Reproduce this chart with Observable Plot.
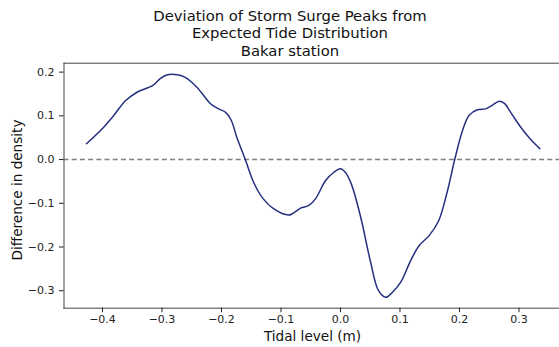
<!DOCTYPE html>
<html>
<head>
<meta charset="utf-8">
<script src="https://cdn.jsdelivr.net/npm/d3@7"></script>
<script src="https://cdn.jsdelivr.net/npm/@observablehq/plot@0.6"></script>
<style>
  html, body { margin: 0; padding: 0; background: #fff; }
  #wrap { position: relative; width: 559px; height: 347px; overflow: hidden; font-family: "DejaVu Sans", sans-serif; color: #111; }
  #title { position: absolute; left: 0; width: 580px; top: 7px; text-align: center; font-size: 14.8px; line-height: 17.3px; }
  #chart { position: absolute; left: 0; top: 0; }
  .axis-label { position: absolute; font-size: 13.6px; line-height: 16px; white-space: nowrap; }
  #xlabel { left: 312.5px; top: 328px; transform: translateX(-50%); }
  #ylabel { left: 17px; top: 190px; transform: translate(-50%, -50%) rotate(-90deg); }
</style>
</head>
<body>
<div id="wrap">
  <div id="chart"></div>
  <div id="title">Deviation of Storm Surge Peaks from<br>Expected Tide Distribution<br>Bakar station</div>
  <div id="xlabel" class="axis-label">Tidal level (m)</div>
  <div id="ylabel" class="axis-label">Difference in density</div>
</div>
<script>
// Tidal level (m) and difference in density (surge peaks minus expected tide)
const tidalLevel = [
  -0.427, -0.398, -0.381, -0.361, -0.342, -0.316, -0.303, -0.291, -0.274, -0.261,
  -0.241, -0.218, -0.205, -0.193, -0.184, -0.174, -0.160, -0.146, -0.132, -0.112,
  -0.087, -0.081, -0.067, -0.053, -0.042, -0.025, -0.011, 0.000, 0.008, 0.018,
  0.034, 0.050, 0.064, 0.076, 0.087, 0.101, 0.118, 0.132, 0.149, 0.165,
  0.179, 0.192, 0.205, 0.216, 0.230, 0.244, 0.255, 0.266, 0.275, 0.286,
  0.303, 0.319, 0.335
];
const densityDiff = [
  0.036, 0.074, 0.101, 0.135, 0.154, 0.169, 0.185, 0.194, 0.194, 0.188,
  0.165, 0.127, 0.116, 0.108, 0.091, 0.050, 0.000, -0.052, -0.086, -0.113,
  -0.127, -0.124, -0.111, -0.105, -0.090, -0.048, -0.029, -0.021, -0.029, -0.055,
  -0.132, -0.231, -0.300, -0.315, -0.304, -0.281, -0.231, -0.197, -0.174, -0.140,
  -0.076, 0.000, 0.066, 0.101, 0.114, 0.116, 0.124, 0.133, 0.129, 0.108,
  0.074, 0.047, 0.025
];
const xTicks = [-0.4, -0.3, -0.2, -0.1, 0.0, 0.1, 0.2, 0.3];
const yTicks = [-0.3, -0.2, -0.1, 0.0, 0.1, 0.2];
const baseline = [0];

const data = tidalLevel.map((x, i) => ({x, y: densityDiff[i]}));

const chart = Plot.plot({
  width: 559,
  height: 347,
  marginLeft: 63.5,
  marginRight: 0,
  marginTop: 62.7,
  marginBottom: 39.3,
  style: {fontFamily: "DejaVu Sans, sans-serif", fontSize: "11px", color: "#222", background: "white"},
  x: {domain: [-0.4647, 0.3681]},
  y: {domain: [-0.340, 0.2204]},
  marks: [
    Plot.ruleY(baseline, {stroke: "#7f7f7f", strokeWidth: 1.4, strokeDasharray: "5,3.2"}),
    Plot.line(data, {x: "x", y: "y", curve: "catmull-rom", stroke: "#25317f", strokeWidth: 1.5}),
    Plot.frame({anchor: "left", stroke: "#444"}),
    Plot.frame({anchor: "top", stroke: "#444"}),
    Plot.frame({anchor: "bottom", stroke: "#444"}),
    Plot.axisX({ticks: xTicks, tickFormat: d3.format(".1f"), tickSize: 4.5, tickPadding: 2.5, label: null}),
    Plot.axisY({ticks: yTicks, tickFormat: d3.format(".1f"), tickSize: 4.5, tickPadding: 5, label: null})
  ]
});
document.getElementById("chart").append(chart);
</script>
</body>
</html>
